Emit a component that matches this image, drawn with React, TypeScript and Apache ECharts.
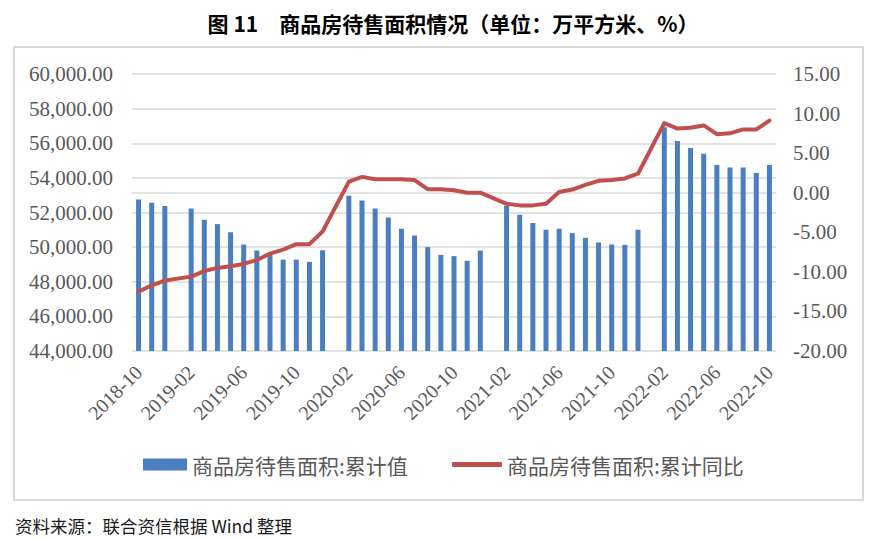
import React, { useEffect, useRef } from "react";
import * as echarts from "echarts";

const months: string[] = [
  "2018-10", "2018-11", "2018-12",
  "2019-01", "2019-02", "2019-03", "2019-04", "2019-05", "2019-06",
  "2019-07", "2019-08", "2019-09", "2019-10", "2019-11", "2019-12",
  "2020-01", "2020-02", "2020-03", "2020-04", "2020-05", "2020-06",
  "2020-07", "2020-08", "2020-09", "2020-10", "2020-11", "2020-12",
  "2021-01", "2021-02", "2021-03", "2021-04", "2021-05", "2021-06",
  "2021-07", "2021-08", "2021-09", "2021-10", "2021-11", "2021-12",
  "2022-01", "2022-02", "2022-03", "2022-04", "2022-05", "2022-06",
  "2022-07", "2022-08", "2022-09", "2022-10",
];

// 商品房待售面积:累计值 (万平方米); January not published
const areaValues: (number | null)[] = [
  52750, 52560, 52370,
  null, 52230, 51580, 51330, 50860, 50150,
  49800, 49550, 49280, 49280, 49150, 49820,
  null, 52970, 52700, 52230, 51710, 51060,
  50670, 50000, 49550, 49480, 49210, 49800,
  null, 52390, 51870, 51400, 51000, 51060,
  50810, 50540, 50270, 50150, 50130, 51000,
  null, 56920, 56130, 55720, 55390, 54740,
  54600, 54600, 54280, 54740,
];

// 商品房待售面积:累计同比 (%)
const yoyValues: (number | null)[] = [
  -12.5, -11.7, -11.1,
  null, -10.6, -9.9, -9.5, -9.3, -9.0,
  -8.5, -7.7, -7.2, -6.5, -6.5, -4.9,
  null, 1.4, 2.0, 1.7, 1.7, 1.7,
  1.6, 0.45, 0.45, 0.3, 0.0, 0.0,
  null, -1.4, -1.6, -1.6, -1.4, 0.1,
  0.4, 1.0, 1.5, 1.6, 1.8, 2.4,
  null, 8.8, 8.1, 8.2, 8.5, 7.4,
  7.5, 8.0, 8.0, 9.1,
];

const seriesNames = ["商品房待售面积:累计值", "商品房待售面积:累计同比"];
const titleText = "图 11　商品房待售面积情况（单位：万平方米、%）";
const sourceText = "资料来源：联合资信根据 Wind 整理";

const LEFT_MIN = 44000;
const LEFT_MAX = 60000;
const LEFT_STEP = 2000;
const RIGHT_MIN = -20;
const RIGHT_MAX = 15;
const RIGHT_STEP = 5;

const SERIF = '"Liberation Serif", "Times New Roman", serif';
const CJK = '"Noto Sans CJK SC", "Noto Sans", sans-serif';
const LABEL_COLOR = "#595959";
const GRID_COLOR = "#d9d9d9";

export default function App() {
  const ref = useRef<HTMLDivElement>(null);

  useEffect(() => {
    if (!ref.current) return;
    const chart = echarts.init(ref.current, undefined, { renderer: "svg" });
    const option: any = {
      animation: false,
      backgroundColor: "#ffffff",
      title: {
        text: titleText,
        left: 448,
        top: 7,
        textAlign: "center",
        textStyle: {
          fontFamily: CJK,
          fontWeight: "bold",
          fontSize: 21,
          color: "#000000",
        },
      },
      graphic: [
        {
          type: "rect",
          shape: { x: 14, y: 47, width: 849, height: 453 },
          style: { fill: "none", stroke: GRID_COLOR, lineWidth: 2 },
          silent: true,
        },
        {
          type: "text",
          left: 15,
          top: 517,
          style: {
            text: sourceText,
            font: `17.5px ${CJK}`,
            fill: "#1a1a1a",
          },
          silent: true,
        },
      ],
      grid: { left: 132, top: 74, right: 102, bottom: 187, containLabel: false },
      legend: [
        {
          left: 143,
          top: 454,
          padding: 0,
          itemWidth: 44,
          itemHeight: 12,
          icon: "rect",
          data: [{ name: seriesNames[0], itemStyle: { color: "#4a7ebf" } }],
          textStyle: { fontFamily: CJK, fontSize: 21, color: LABEL_COLOR },
        },
        {
          left: 452,
          top: 454,
          padding: 0,
          itemWidth: 50,
          itemHeight: 5,
          icon: "roundRect",
          data: [{ name: seriesNames[1], itemStyle: { color: "#c0504d" } }],
          textStyle: { fontFamily: CJK, fontSize: 21, color: LABEL_COLOR },
        },
      ],
      xAxis: {
        type: "category",
        data: months,
        boundaryGap: true,
        axisTick: { show: false },
        axisLine: { show: true, lineStyle: { color: GRID_COLOR, width: 1.5 } },
        axisLabel: {
          interval: 3,
          rotate: 45,
          margin: 18,
          fontFamily: SERIF,
          fontSize: 20,
          color: LABEL_COLOR,
        },
      },
      yAxis: [
        {
          type: "value",
          min: LEFT_MIN,
          max: LEFT_MAX,
          interval: LEFT_STEP,
          axisLine: { show: false },
          axisTick: { show: false },
          splitLine: { show: true, lineStyle: { color: GRID_COLOR, width: 1.5 } },
          axisLabel: {
            margin: 19,
            fontFamily: SERIF,
            fontSize: 21,
            color: LABEL_COLOR,
            formatter: (v: number) =>
              v.toLocaleString("en-US", { minimumFractionDigits: 2, maximumFractionDigits: 2 }),
          },
        },
        {
          type: "value",
          min: RIGHT_MIN,
          max: RIGHT_MAX,
          interval: RIGHT_STEP,
          position: "right",
          axisLine: { show: false },
          axisTick: { show: false },
          splitLine: { show: false },
          axisLabel: {
            margin: 17,
            fontFamily: SERIF,
            fontSize: 21,
            color: LABEL_COLOR,
            formatter: (v: number) => v.toFixed(2),
          },
        },
      ],
      series: [
        {
          name: seriesNames[0],
          type: "bar",
          yAxisIndex: 0,
          data: areaValues,
          barWidth: 5,
          itemStyle: { color: "#4a7ebf" },
        },
        {
          name: seriesNames[1],
          type: "line",
          yAxisIndex: 1,
          data: yoyValues,
          connectNulls: true,
          symbol: "none",
          lineStyle: { color: "#c0504d", width: 4, join: "round", cap: "round" },
          itemStyle: { color: "#c0504d" },
          z: 3,
        },
      ],
    };
    chart.setOption(option);
    return () => chart.dispose();
  }, []);

  return (
    <div
      ref={ref}
      style={{ position: "fixed", left: 0, top: 0, width: 878, height: 538, background: "#fff" }}
    />
  );
}
